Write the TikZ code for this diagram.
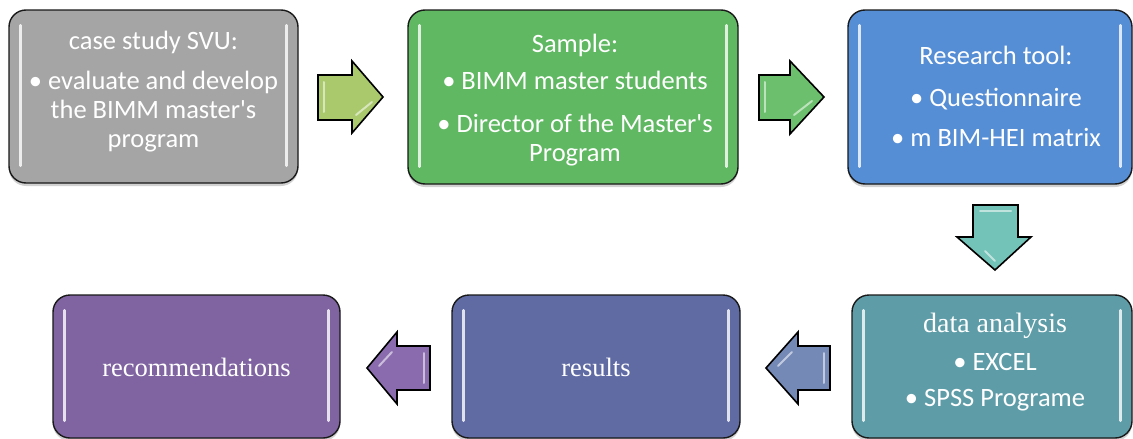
\documentclass[tikz,border=0pt]{standalone}
\usepackage{fontspec}
\setmainfont{Carlito}
\newfontfamily\tnr{Liberation Serif}
\usetikzlibrary{shadows,calc}
\definecolor{cgray}{HTML}{A5A5A5}
\definecolor{cgreen}{HTML}{60B862}
\definecolor{cblue}{HTML}{568ED5}
\definecolor{cteal}{HTML}{5E9DA8}
\definecolor{cslate}{HTML}{606BA4}
\definecolor{cpurple}{HTML}{8064A1}
\definecolor{aolive}{HTML}{A9C96C}
\definecolor{agreen}{HTML}{6CBF6C}
\definecolor{ateal}{HTML}{74C3B8}
\definecolor{aslate}{HTML}{7489B6}
\definecolor{apurple}{HTML}{8A6CAE}
\tikzset{
  box/.style={draw=black!90, line width=1.4pt, rounded corners=17pt, inner sep=0pt,
    drop shadow={shadow xshift=0pt, shadow yshift=-3pt, opacity=0.3, fill=black!60}},
  txt/.style={text=white, align=center, font=\fontsize{26.5}{29}\selectfont, inner sep=0pt},
  shine/.style={draw=white, line width=2.6pt, line cap=round, opacity=0.8},
  barrow/.style={draw=black, line width=1.6pt, line join=miter},
  glint/.style={draw=white, line width=2pt, line cap=round, opacity=0.55},
}
\newcommand\boxshine[1]{%
  \draw[shine] ($(#1.north west)+(12,16)$) -- ($(#1.south west)+(12,-18)$);
  \draw[shine] ($(#1.north east)+(-12,16)$) -- ($(#1.south east)+(-12,-18)$);}
\begin{document}
\begin{tikzpicture}[x=1pt,y=-1pt]
\useasboundingbox (0,0) rectangle (1133,439);
% boxes
\node[box, fill=cgray,   minimum width=289pt, minimum height=173pt] (b1) at (153.5,96.5) {};
\node[box, fill=cgreen,  minimum width=330pt, minimum height=174pt] (b2) at (573,97) {};
\node[box, fill=cblue,   minimum width=284pt, minimum height=174pt] (b3) at (990,97) {};
\node[box, fill=cteal,   minimum width=280pt, minimum height=143pt] (b4) at (992,366.5) {};
\node[box, fill=cslate,  minimum width=288pt, minimum height=143pt] (b5) at (596,366.5) {};
\node[box, fill=cpurple, minimum width=287pt, minimum height=143pt] (b6) at (196.5,366.5) {};
\boxshine{b1}\boxshine{b2}\boxshine{b3}\boxshine{b4}\boxshine{b5}\boxshine{b6}
% texts
\node[txt] (t1) at (153.5,92) {case study SVU:\\[11pt]• evaluate and develop\\the BIMM master\textquotesingle s\\program};
\node[txt] (t2) at (575,100) {Sample:\\[8pt]• BIMM master students\\[14pt]• Director of the Master\textquotesingle s\\Program};
\node[txt] (t3) at (996,96) {Research tool:\\[13pt]• Questionnaire\\[11pt]• m BIM-HEI matrix};
\node[txt] (t4) at (995,362.5) {{\tnr\fontsize{28}{29}\selectfont data analysis}\\[9pt]• EXCEL\\[7pt]• SPSS Programe};
\node[txt, font=\tnr\fontsize{26.5}{29}\selectfont] (t5) at (596,367) {results};
\node[txt, font=\tnr\fontsize{26.5}{29}\selectfont] (t6) at (196.5,367) {recommendations};
% block arrows
\draw[barrow, fill=aolive] (318,75) -- (352,75) -- (352,61) -- (383,97) -- (352,133) -- (352,120) -- (318,120) -- cycle;
\draw[glint] (324,82) -- (324,112); \draw[glint] (356,115) -- (372,102);
\draw[barrow, fill=agreen] (759,75) -- (790,75) -- (790,61) -- (824,97) -- (790,134) -- (790,120) -- (759,120) -- cycle;
\draw[glint] (765,82) -- (765,112); \draw[glint] (794,115) -- (812,101);
\draw[barrow, fill=ateal] (973,205) -- (1018,205) -- (1018,237) -- (1031,237) -- (995,270) -- (957,237) -- (973,237) -- cycle;
\draw[glint] (980,211) -- (1011,211); \draw[glint] (985,251) -- (995,261);
\draw[barrow, fill=aslate] (830,346) -- (798,346) -- (798,332) -- (766,368) -- (798,404) -- (798,390) -- (830,390) -- cycle;
\draw[glint] (824,353) -- (824,383); \draw[glint] (778,366) -- (792,352);
\draw[barrow, fill=apurple] (430,346) -- (397,346) -- (397,332) -- (367,368) -- (397,404) -- (397,390) -- (430,390) -- cycle;
\draw[glint] (424,353) -- (424,383); \draw[glint] (379,366) -- (392,352);
\end{tikzpicture}
\end{document}
